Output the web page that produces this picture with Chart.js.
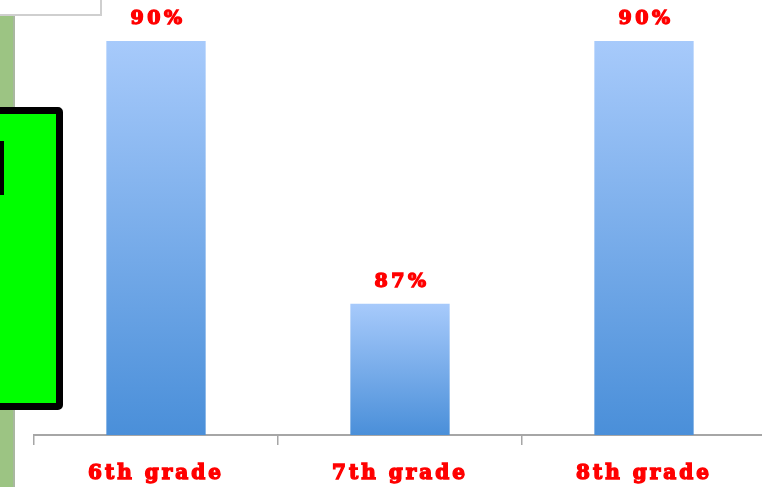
<!DOCTYPE html>
<html>
<head>
<meta charset="utf-8">
<script src="https://cdn.jsdelivr.net/npm/chart.js@4"></script>
<style>
  html, body { margin: 0; padding: 0; background: #fff; overflow: hidden; }
  #wrap { position: relative; width: 766px; height: 487px; }
  .deco { position: absolute; pointer-events: none; box-sizing: border-box; }
  #strip { left: 0; top: 0; width: 15px; height: 487px; background: #9cc483; border-right: 2px solid #a9b8a0; }
  #note { left: 0; top: 0; width: 102px; height: 16px; background: #fff; border-right: 2px solid #cfcfcf; border-bottom: 2px solid #cfcfcf; }
  #panel { left: -12px; top: 107px; width: 75px; height: 303px; background: #00ff00; border: 7px solid #000; border-radius: 5px; }
  #mark { left: 0; top: 141px; width: 4px; height: 54px; background: #000; }
</style>
</head>
<body>
<div id="wrap">
  <canvas id="grade-chart" width="766" height="487"></canvas>
  <div class="deco" id="strip"></div>
  <div class="deco" id="note"></div>
  <div class="deco" id="panel"></div>
  <div class="deco" id="mark"></div>
</div>
<script>
const gradeLabels = ['6th grade', '7th grade', '8th grade'];
const gradeValues = [90, 87, 90];
const valueLabels = ['90%', '87%', '90%'];

const redText = '#ff0000';

// each bar gets its own light-to-dark gradient, from its top to the axis
function barGradient(context) {
    const chart = context.chart;
    const area = chart.chartArea;
    if (!area || !chart.scales.y) return '#7fb0ee';
    const top = chart.scales.y.getPixelForValue(gradeValues[context.dataIndex]);
    const g = chart.ctx.createLinearGradient(0, top, 0, area.bottom);
    g.addColorStop(0, '#a7cafb');
    g.addColorStop(1, '#4a8fd9');
    return g;
}

// draws the red percentage above each bar
const valueLabelPlugin = {
    id: 'valueLabels',
    afterDatasetsDraw(chart) {
        const ctx = chart.ctx;
        const meta = chart.getDatasetMeta(0);
        ctx.save();
        ctx.font = 'bold 19px "DejaVu Serif"';
        ctx.letterSpacing = '3.5px';
        ctx.fillStyle = redText;
        ctx.strokeStyle = redText;
        ctx.lineWidth = 1.4;
        ctx.textAlign = 'center';
        ctx.textBaseline = 'alphabetic';
        meta.data.forEach((bar, i) => {
            ctx.fillText(valueLabels[i], bar.x + 2, bar.y - 17);
            ctx.strokeText(valueLabels[i], bar.x + 2, bar.y - 17);
        });
        ctx.restore();
    }
};

// wider letter spacing for the axis labels
const spacingPlugin = {
    id: 'spacing',
    beforeDraw(chart) { chart.ctx.letterSpacing = '3px'; }
};

var ctx = document.getElementById('grade-chart').getContext('2d');
var gradeChart = new Chart(ctx, {
    type: 'bar',
    data: {
        labels: gradeLabels,
        datasets: [
            {
                data: gradeValues,
                backgroundColor: barGradient,
                borderWidth: 0,
                categoryPercentage: 1,
                barPercentage: 0.407
            }
        ]
    },
    options: {
        responsive: false,
        animation: false,
        layout: {
            padding: { top: 41, left: 34, right: 0, bottom: 0 }
        },
        plugins: {
            legend: { display: false },
            tooltip: { enabled: false }
        },
        scales: {
            x: {
                grid: {
                    display: true,
                    drawOnChartArea: false,
                    offset: true,
                    color: '#a6a6a6',
                    tickLength: 10,
                    lineWidth: 1.5
                },
                border: { display: true, color: '#a6a6a6', width: 2 },
                ticks: {
                    color: redText,
                    font: { family: 'DejaVu Serif', size: 20, weight: 'bold' },
                    textStrokeColor: redText,
                    textStrokeWidth: 1.4,
                    padding: 17,
                    maxRotation: 0
                },
                afterFit(scale) { scale.height = 52; }
            },
            y: {
                display: false,
                min: 85.5,
                max: 90
            }
        }
    },
    plugins: [spacingPlugin, valueLabelPlugin]
});
</script>
</body>
</html>
